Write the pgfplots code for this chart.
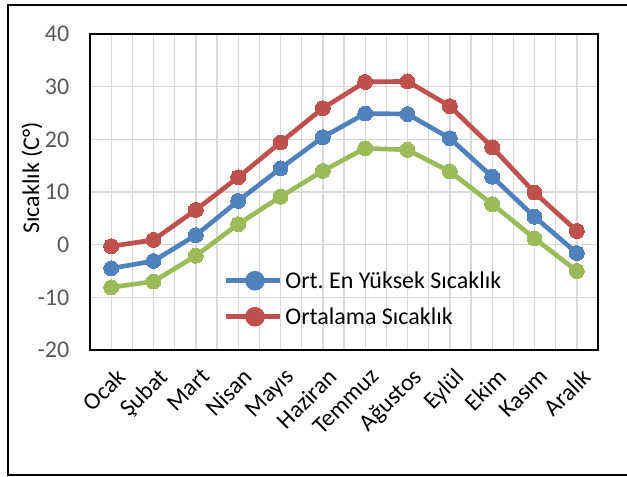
\documentclass[border=0pt]{standalone}
\usepackage{pgfplots}
\pgfplotsset{compat=1.18}
\usepackage{fontspec}
\setmainfont{Carlito}
\definecolor{cblue}{HTML}{4F81BD}
\definecolor{cred}{HTML}{C0504D}
\definecolor{cgreen}{HTML}{9BBB59}
\definecolor{cgrid}{HTML}{D9D9D9}
\definecolor{ctick}{HTML}{595959}
\newcommand{\bigf}{\fontsize{18}{21.6}\selectfont}
\frenchspacing
\begin{document}
\begin{tikzpicture}
\useasboundingbox (0,0) rectangle (470.25pt,357.75pt);
\draw[line width=1.5pt] (475pt,354pt) -- (6pt,354pt) -- (6pt,1.5pt) -- (475pt,1.5pt);
\begin{axis}[
  at={(67.5pt,95.25pt)}, anchor=south west,
  scale only axis, width=381pt, height=237pt,
  xmin=-0.5, xmax=11.5, ymin=-20, ymax=40,
  xtick={0,...,11},
  xticklabels={Ocak,Şubat,Mart,Nisan,Mayıs,Haziran,Temmuz,Ağustos,Eylül,Ekim,Kasım,Aralık},
  minor xtick={-0.5,0.5,...,11.5},
  ytick={-20,-10,...,40},
  xmajorgrids, xminorgrids, ymajorgrids,
  grid style={cgrid, line width=1pt},
  minor grid style={cgrid, line width=1pt},
  major tick length=0pt, minor tick length=0pt,
  axis line style={black, line width=1.2pt},
  /pgf/number format/assume math mode=true,
  tick label style={font=\bigf},
  yticklabel style={color=ctick, xshift=-12pt},
  xticklabel style={xshift=3pt, yshift=-11pt, rotate=45, anchor=north east, inner sep=1pt},
  ylabel={Sıcaklık (C°)},
  ylabel style={font=\bigf, at={(axis description cs:-0.114,0.545)}, anchor=center},
  legend style={at={(axis description cs:0.262,0.258)}, anchor=north west, draw=none, fill=none,
    font=\bigf, row sep=9pt, inner sep=0pt},
  legend cell align=left,
  legend image code/.code={
    \draw[line width=3.5pt] (0pt,0pt) -- (41pt,0pt);
    \fill (22pt,0pt) circle (5.6pt);
  },
  every axis plot/.append style={line width=3.5pt, mark=*, mark size=5.6pt},
]
\addplot[cgreen, mark options={fill=cgreen, draw=cgreen, line width=0pt}, forget plot] coordinates {
(0,-8.1) (1,-7.0) (2,-2.1) (3,3.9) (4,9.1) (5,14.0) (6,18.3) (7,18.0) (8,13.9) (9,7.7) (10,1.2) (11,-5.0)};
\addplot[cblue, mark options={fill=cblue, draw=cblue, line width=0pt}] coordinates {
(0,-4.5) (1,-3.1) (2,1.8) (3,8.3) (4,14.5) (5,20.4) (6,24.9) (7,24.8) (8,20.2) (9,12.9) (10,5.3) (11,-1.6)};
\addlegendentry{Ort. En Yüksek Sıcaklık}
\addplot[cred, mark options={fill=cred, draw=cred, line width=0pt}] coordinates {
(0,-0.3) (1,0.9) (2,6.6) (3,12.8) (4,19.4) (5,25.9) (6,30.9) (7,31.0) (8,26.3) (9,18.5) (10,9.9) (11,2.6)};
\addlegendentry{Ortalama Sıcaklık}
\end{axis}
\end{tikzpicture}
\end{document}
